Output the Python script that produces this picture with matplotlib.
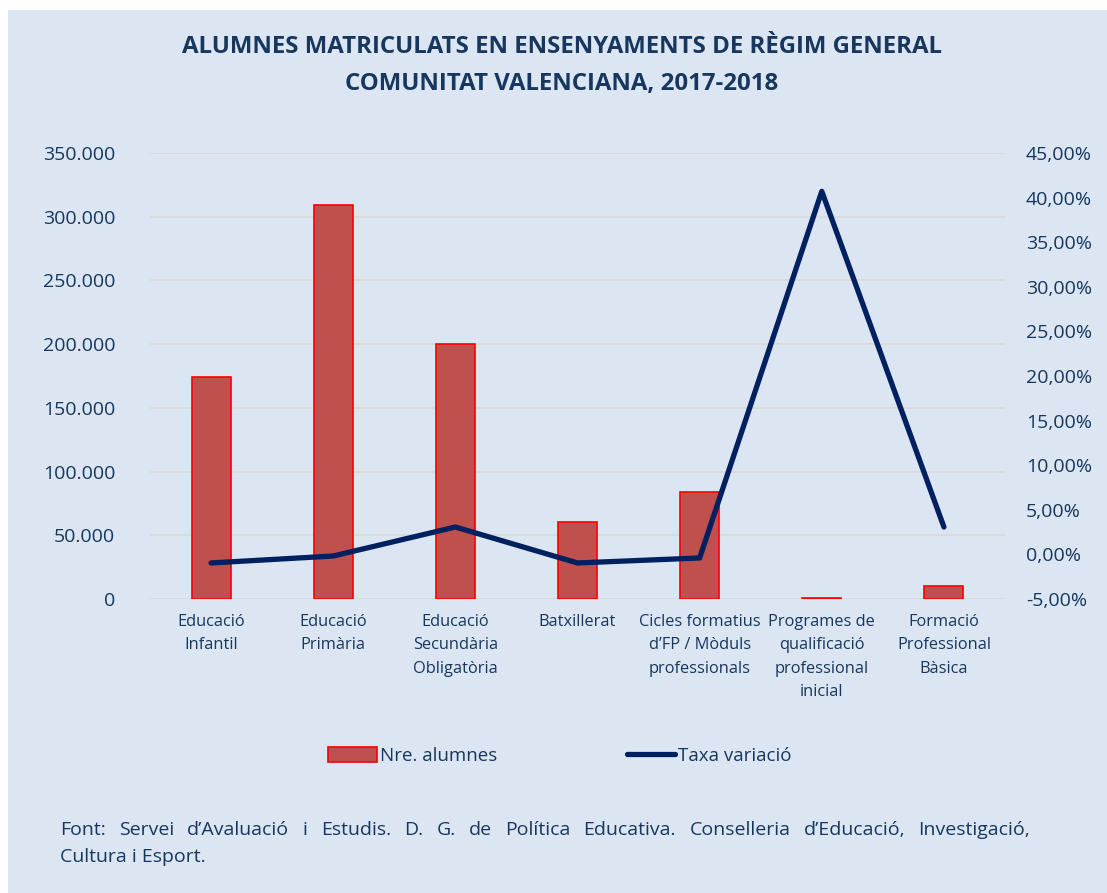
import numpy as np
import matplotlib.pyplot as plt
from matplotlib.patches import Rectangle, Patch
from matplotlib.lines import Line2D
from matplotlib.ticker import FuncFormatter

# data
categories = ["Educació\nInfantil", "Educació\nPrimària", "Educació\nSecundària\nObligatòria",
              "Batxillerat", "Cicles formatius\nd\u2019FP / Mòduls\nprofessionals",
              "Programes de\nqualificació\nprofessional\ninicial", "Formació\nProfessional\nBàsica"]
alumnes = [174500, 309000, 200000, 60500, 84000, 400, 10200]
taxa = [-0.96, -0.18, 3.07, -0.96, -0.40, 40.7, 3.07]
font_line1 = ("Font: Servei d\u2019Avaluació i Estudis. D. G. de Política Educativa. "
              "Conselleria d\u2019Educació, Investigació,")
font_line2 = "Cultura i Esport."

bg = "#dce6f2"
txt = "#17375e"
plt.rcParams['font.family'] = ['Open Sans', 'DejaVu Sans']

W, H = 1107, 893
fig = plt.figure(figsize=(11.07, 8.93), dpi=100)
fig.patch.set_facecolor("white")
fig.patches.append(Rectangle((8 / W, 0), 1, 1 - 10 / H, transform=fig.transFigure,
                             facecolor=bg, edgecolor="none", zorder=-10))

ax = fig.add_axes([150 / W, 1 - 599 / H, (1005 - 150) / W, (599 - 153) / H])
ax.set_facecolor("none")
x = np.arange(len(categories))
ax.bar(x, alumnes, width=0.32, color="#c0504d", edgecolor="#ff0000", linewidth=1.2, zorder=2)
ax.set_xlim(-0.5, len(categories) - 0.5)
ax.set_ylim(0, 350000)
ax.set_yticks(np.arange(0, 350001, 50000))
ax.yaxis.set_major_formatter(FuncFormatter(lambda v, p: f"{int(v):,}".replace(",", ".")))
ax.grid(axis="y", color="#d9d9d9", linewidth=1.3, zorder=0)
ax.set_axisbelow(True)
for s in ax.spines.values():
    s.set_visible(False)
ax.tick_params(axis="both", length=0, colors=txt)
ax.tick_params(axis="y", labelsize=14, pad=25)
ax.set_xticks(x)
ax.set_xticklabels(categories, fontsize=11.8, color=txt, linespacing=1.6)
ax.tick_params(axis="x", pad=11)

ax2 = ax.twinx()
ax2.plot(x, taxa, color="#002060", linewidth=3.8, solid_capstyle="round",
         solid_joinstyle="round", zorder=3)
ax2.set_ylim(-5, 45)
ax2.set_yticks(np.arange(-5, 45.1, 5))
ax2.yaxis.set_major_formatter(FuncFormatter(lambda v, p: f"{v:.2f}%".replace(".", ",")))
for s in ax2.spines.values():
    s.set_visible(False)
ax2.tick_params(axis="y", length=0, labelsize=14, colors=txt, pad=15)

fig.text(562 / W, 1 - 47 / H, "ALUMNES MATRICULATS EN ENSENYAMENTS DE RÈGIM GENERAL",
         ha="center", va="center", fontsize=17.3, fontweight="bold", color=txt)
fig.text(562 / W, 1 - 84 / H, "COMUNITAT VALENCIANA, 2017-2018",
         ha="center", va="center", fontsize=17.3, fontweight="bold", color=txt)

handles = [Patch(facecolor="#c0504d", edgecolor="#ff0000", linewidth=1.2),
           Line2D([0], [0], color="#002060", linewidth=3.8, solid_capstyle="round")]
fig.legend(handles, ["Nre. alumnes", "Taxa variació"], loc="center",
           bbox_to_anchor=(560 / W, 1 - 756 / H), ncol=2, frameon=False,
           fontsize=13.5, labelcolor=txt, handlelength=2.6, handleheight=0.8,
           handletextpad=0.15, columnspacing=6.9)

# justified source line
fig.canvas.draw()
renderer = fig.canvas.get_renderer()
words = font_line1.split(" ")
x0, x1 = 60, 1030
arts = [fig.text(0, 1 - 830 / H, w, ha="left", va="center", fontsize=14, color=txt)
        for w in words]
widths = [a.get_window_extent(renderer).width for a in arts]
gap = (x1 - x0 - sum(widths)) / (len(words) - 1)
pos = x0
for a, w in zip(arts, widths):
    a.set_x(pos / W)
    pos += w + gap
fig.text(x0 / W, 1 - 857 / H, font_line2, ha="left", va="center", fontsize=14, color=txt)

fig.savefig("out.png", dpi=100)
